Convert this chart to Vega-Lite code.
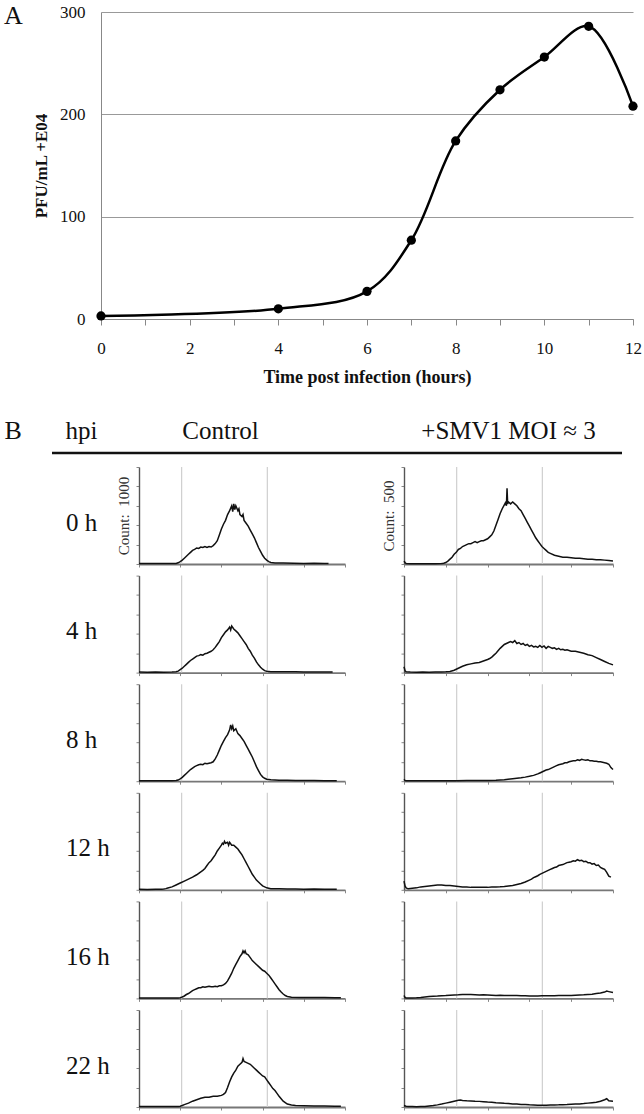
{
"$schema": "https://vega.github.io/schema/vega-lite/v6.json",
"padding": {"left": 4, "top": 3, "right": 0, "bottom": 0},
"background": "white",
"spacing": 11,
"config": {
 "view": {"stroke": null},
 "font": "Liberation Serif",
 "axis": {"labelFont": "Liberation Serif", "titleFont": "Liberation Serif", "grid": false, "labels": false, "tickSize": 3, "tickColor": "#888", "titleFontWeight": "normal", "titleColor": "#222", "labelColor": "#111"},
 "axisX": {"domainColor": "#777", "domainWidth": 1.8},
 "axisY": {"domainColor": "#555", "domainWidth": 1.4},
 "title": {"font": "Liberation Serif", "fontWeight": "normal", "color": "#111"},
 "line": {"color": "#111", "strokeWidth": 1.5},
 "rule": {"color": "#cfcfcf", "strokeWidth": 1.2}
},
"datasets": {
 "gates": [{"c":"C","g":20.7},{"c":"C","g":62.3},{"c":"S","g":25.2},{"c":"S","g":66.2}],
 "hist": [
{"h":"0 h","c":"C","x":0,"y":0.5},{"h":"0 h","c":"C","x":3,"y":0.4},{"h":"0 h","c":"C","x":6,"y":0.5},{"h":"0 h","c":"C","x":9,"y":0.4},{"h":"0 h","c":"C","x":12,"y":0.5},{"h":"0 h","c":"C","x":15,"y":0.4},{"h":"0 h","c":"C","x":18,"y":0.6},{"h":"0 h","c":"C","x":19,"y":1.2},{"h":"0 h","c":"C","x":20,"y":2.5},{"h":"0 h","c":"C","x":21,"y":4},{"h":"0 h","c":"C","x":22,"y":6},{"h":"0 h","c":"C","x":23,"y":8},{"h":"0 h","c":"C","x":24,"y":10},{"h":"0 h","c":"C","x":25,"y":12},{"h":"0 h","c":"C","x":26,"y":14},{"h":"0 h","c":"C","x":27,"y":15},{"h":"0 h","c":"C","x":28,"y":16.5},{"h":"0 h","c":"C","x":29,"y":16},{"h":"0 h","c":"C","x":30,"y":17.5},{"h":"0 h","c":"C","x":31,"y":17},{"h":"0 h","c":"C","x":32,"y":18},{"h":"0 h","c":"C","x":33,"y":17},{"h":"0 h","c":"C","x":34,"y":18},{"h":"0 h","c":"C","x":35,"y":17.5},{"h":"0 h","c":"C","x":36,"y":19},{"h":"0 h","c":"C","x":37,"y":21},{"h":"0 h","c":"C","x":38,"y":24},{"h":"0 h","c":"C","x":39,"y":30},{"h":"0 h","c":"C","x":40,"y":36},{"h":"0 h","c":"C","x":41,"y":41},{"h":"0 h","c":"C","x":42,"y":45},{"h":"0 h","c":"C","x":43,"y":51},{"h":"0 h","c":"C","x":44,"y":55},{"h":"0 h","c":"C","x":45,"y":60},{"h":"0 h","c":"C","x":45.5,"y":54},{"h":"0 h","c":"C","x":46,"y":62},{"h":"0 h","c":"C","x":46.5,"y":56},{"h":"0 h","c":"C","x":47,"y":60},{"h":"0 h","c":"C","x":48,"y":55},{"h":"0 h","c":"C","x":48.5,"y":57},{"h":"0 h","c":"C","x":49,"y":51},{"h":"0 h","c":"C","x":50,"y":49},{"h":"0 h","c":"C","x":50.5,"y":51},{"h":"0 h","c":"C","x":51,"y":45},{"h":"0 h","c":"C","x":52,"y":42},{"h":"0 h","c":"C","x":53,"y":39},{"h":"0 h","c":"C","x":54,"y":35},{"h":"0 h","c":"C","x":55,"y":31},{"h":"0 h","c":"C","x":56,"y":27},{"h":"0 h","c":"C","x":57,"y":22},{"h":"0 h","c":"C","x":58,"y":17},{"h":"0 h","c":"C","x":59,"y":13},{"h":"0 h","c":"C","x":60,"y":9},{"h":"0 h","c":"C","x":61,"y":6},{"h":"0 h","c":"C","x":62,"y":4},{"h":"0 h","c":"C","x":63,"y":2.5},{"h":"0 h","c":"C","x":64,"y":1.5},{"h":"0 h","c":"C","x":66,"y":1},{"h":"0 h","c":"C","x":70,"y":1},{"h":"0 h","c":"C","x":75,"y":0.8},{"h":"0 h","c":"C","x":80,"y":0.6},{"h":"0 h","c":"C","x":85,"y":0.7},{"h":"0 h","c":"C","x":90,"y":0.5},{"h":"0 h","c":"C","x":92,"y":0.4},
{"h":"4 h","c":"C","x":0,"y":0.5},{"h":"4 h","c":"C","x":4,"y":0.4},{"h":"4 h","c":"C","x":8,"y":0.5},{"h":"4 h","c":"C","x":12,"y":0.4},{"h":"4 h","c":"C","x":16,"y":0.5},{"h":"4 h","c":"C","x":18,"y":0.8},{"h":"4 h","c":"C","x":19,"y":1.5},{"h":"4 h","c":"C","x":20,"y":3},{"h":"4 h","c":"C","x":21,"y":4.5},{"h":"4 h","c":"C","x":22,"y":6.5},{"h":"4 h","c":"C","x":23,"y":8.5},{"h":"4 h","c":"C","x":24,"y":10.5},{"h":"4 h","c":"C","x":25,"y":12.5},{"h":"4 h","c":"C","x":26,"y":14},{"h":"4 h","c":"C","x":27,"y":15.5},{"h":"4 h","c":"C","x":28,"y":17},{"h":"4 h","c":"C","x":29,"y":17.5},{"h":"4 h","c":"C","x":30,"y":18.5},{"h":"4 h","c":"C","x":31,"y":18},{"h":"4 h","c":"C","x":32,"y":19.5},{"h":"4 h","c":"C","x":33,"y":20},{"h":"4 h","c":"C","x":34,"y":21},{"h":"4 h","c":"C","x":35,"y":22},{"h":"4 h","c":"C","x":36,"y":23.5},{"h":"4 h","c":"C","x":37,"y":26},{"h":"4 h","c":"C","x":38,"y":29},{"h":"4 h","c":"C","x":39,"y":32},{"h":"4 h","c":"C","x":40,"y":36},{"h":"4 h","c":"C","x":41,"y":39},{"h":"4 h","c":"C","x":42,"y":42},{"h":"4 h","c":"C","x":43,"y":44},{"h":"4 h","c":"C","x":44,"y":47},{"h":"4 h","c":"C","x":44.5,"y":44},{"h":"4 h","c":"C","x":45,"y":48},{"h":"4 h","c":"C","x":46,"y":45},{"h":"4 h","c":"C","x":47,"y":43},{"h":"4 h","c":"C","x":48,"y":41},{"h":"4 h","c":"C","x":49,"y":38},{"h":"4 h","c":"C","x":50,"y":35},{"h":"4 h","c":"C","x":51,"y":32},{"h":"4 h","c":"C","x":52,"y":29},{"h":"4 h","c":"C","x":53,"y":25},{"h":"4 h","c":"C","x":54,"y":22},{"h":"4 h","c":"C","x":55,"y":18},{"h":"4 h","c":"C","x":56,"y":15},{"h":"4 h","c":"C","x":57,"y":11},{"h":"4 h","c":"C","x":58,"y":8},{"h":"4 h","c":"C","x":59,"y":5.5},{"h":"4 h","c":"C","x":60,"y":3.5},{"h":"4 h","c":"C","x":61,"y":2},{"h":"4 h","c":"C","x":62,"y":1.5},{"h":"4 h","c":"C","x":64,"y":1},{"h":"4 h","c":"C","x":68,"y":1},{"h":"4 h","c":"C","x":72,"y":0.8},{"h":"4 h","c":"C","x":76,"y":0.9},{"h":"4 h","c":"C","x":80,"y":0.6},{"h":"4 h","c":"C","x":85,"y":0.7},{"h":"4 h","c":"C","x":90,"y":0.5},{"h":"4 h","c":"C","x":94,"y":0.5},
{"h":"8 h","c":"C","x":0,"y":0.5},{"h":"8 h","c":"C","x":4,"y":0.4},{"h":"8 h","c":"C","x":8,"y":0.5},{"h":"8 h","c":"C","x":12,"y":0.4},{"h":"8 h","c":"C","x":16,"y":0.5},{"h":"8 h","c":"C","x":18,"y":0.7},{"h":"8 h","c":"C","x":19,"y":1.2},{"h":"8 h","c":"C","x":20,"y":2.5},{"h":"8 h","c":"C","x":21,"y":4},{"h":"8 h","c":"C","x":22,"y":6},{"h":"8 h","c":"C","x":23,"y":8},{"h":"8 h","c":"C","x":24,"y":10},{"h":"8 h","c":"C","x":25,"y":12},{"h":"8 h","c":"C","x":26,"y":13.5},{"h":"8 h","c":"C","x":27,"y":15},{"h":"8 h","c":"C","x":28,"y":16},{"h":"8 h","c":"C","x":29,"y":17},{"h":"8 h","c":"C","x":30,"y":17.5},{"h":"8 h","c":"C","x":31,"y":17},{"h":"8 h","c":"C","x":32,"y":18.5},{"h":"8 h","c":"C","x":33,"y":18},{"h":"8 h","c":"C","x":34,"y":18.5},{"h":"8 h","c":"C","x":35,"y":19},{"h":"8 h","c":"C","x":36,"y":20},{"h":"8 h","c":"C","x":37,"y":23},{"h":"8 h","c":"C","x":38,"y":27},{"h":"8 h","c":"C","x":39,"y":32},{"h":"8 h","c":"C","x":40,"y":37},{"h":"8 h","c":"C","x":41,"y":41},{"h":"8 h","c":"C","x":42,"y":45},{"h":"8 h","c":"C","x":43,"y":48},{"h":"8 h","c":"C","x":44,"y":53},{"h":"8 h","c":"C","x":44.5,"y":58},{"h":"8 h","c":"C","x":45,"y":54},{"h":"8 h","c":"C","x":45.5,"y":57},{"h":"8 h","c":"C","x":46,"y":52},{"h":"8 h","c":"C","x":47,"y":54},{"h":"8 h","c":"C","x":48,"y":49},{"h":"8 h","c":"C","x":49,"y":47},{"h":"8 h","c":"C","x":50,"y":44},{"h":"8 h","c":"C","x":51,"y":41},{"h":"8 h","c":"C","x":52,"y":37},{"h":"8 h","c":"C","x":53,"y":33},{"h":"8 h","c":"C","x":54,"y":29},{"h":"8 h","c":"C","x":55,"y":25},{"h":"8 h","c":"C","x":56,"y":20},{"h":"8 h","c":"C","x":57,"y":15},{"h":"8 h","c":"C","x":58,"y":11},{"h":"8 h","c":"C","x":59,"y":7},{"h":"8 h","c":"C","x":60,"y":4.5},{"h":"8 h","c":"C","x":61,"y":3},{"h":"8 h","c":"C","x":62,"y":2},{"h":"8 h","c":"C","x":64,"y":1.5},{"h":"8 h","c":"C","x":68,"y":1},{"h":"8 h","c":"C","x":72,"y":1},{"h":"8 h","c":"C","x":76,"y":0.8},{"h":"8 h","c":"C","x":80,"y":0.8},{"h":"8 h","c":"C","x":85,"y":0.6},{"h":"8 h","c":"C","x":90,"y":0.5},{"h":"8 h","c":"C","x":96,"y":0.5},
{"h":"12 h","c":"C","x":0,"y":0.5},{"h":"12 h","c":"C","x":4,"y":0.4},{"h":"12 h","c":"C","x":8,"y":0.5},{"h":"12 h","c":"C","x":11,"y":0.5},{"h":"12 h","c":"C","x":12,"y":0.8},{"h":"12 h","c":"C","x":13,"y":1.2},{"h":"12 h","c":"C","x":14,"y":1.8},{"h":"12 h","c":"C","x":16,"y":3},{"h":"12 h","c":"C","x":18,"y":5},{"h":"12 h","c":"C","x":20,"y":7},{"h":"12 h","c":"C","x":22,"y":9},{"h":"12 h","c":"C","x":24,"y":11},{"h":"12 h","c":"C","x":26,"y":13},{"h":"12 h","c":"C","x":28,"y":15.5},{"h":"12 h","c":"C","x":29,"y":17},{"h":"12 h","c":"C","x":30,"y":18.5},{"h":"12 h","c":"C","x":31,"y":20},{"h":"12 h","c":"C","x":32,"y":22},{"h":"12 h","c":"C","x":33,"y":25},{"h":"12 h","c":"C","x":34,"y":28},{"h":"12 h","c":"C","x":35,"y":30},{"h":"12 h","c":"C","x":36,"y":33},{"h":"12 h","c":"C","x":37,"y":36},{"h":"12 h","c":"C","x":38,"y":40},{"h":"12 h","c":"C","x":39,"y":43},{"h":"12 h","c":"C","x":40,"y":46},{"h":"12 h","c":"C","x":40.5,"y":48},{"h":"12 h","c":"C","x":41,"y":47},{"h":"12 h","c":"C","x":41.5,"y":50},{"h":"12 h","c":"C","x":42,"y":48},{"h":"12 h","c":"C","x":43,"y":49},{"h":"12 h","c":"C","x":43.5,"y":46},{"h":"12 h","c":"C","x":44,"y":49},{"h":"12 h","c":"C","x":45,"y":46},{"h":"12 h","c":"C","x":46,"y":46},{"h":"12 h","c":"C","x":47,"y":44},{"h":"12 h","c":"C","x":48,"y":42},{"h":"12 h","c":"C","x":49,"y":39},{"h":"12 h","c":"C","x":50,"y":36},{"h":"12 h","c":"C","x":51,"y":32},{"h":"12 h","c":"C","x":52,"y":28},{"h":"12 h","c":"C","x":53,"y":24},{"h":"12 h","c":"C","x":54,"y":20},{"h":"12 h","c":"C","x":55,"y":16},{"h":"12 h","c":"C","x":56,"y":13},{"h":"12 h","c":"C","x":57,"y":10},{"h":"12 h","c":"C","x":58,"y":8},{"h":"12 h","c":"C","x":59,"y":6},{"h":"12 h","c":"C","x":60,"y":4},{"h":"12 h","c":"C","x":61,"y":3},{"h":"12 h","c":"C","x":62,"y":2},{"h":"12 h","c":"C","x":64,"y":1.2},{"h":"12 h","c":"C","x":68,"y":1},{"h":"12 h","c":"C","x":72,"y":0.8},{"h":"12 h","c":"C","x":76,"y":0.9},{"h":"12 h","c":"C","x":80,"y":0.6},{"h":"12 h","c":"C","x":85,"y":0.7},{"h":"12 h","c":"C","x":90,"y":0.5},{"h":"12 h","c":"C","x":96,"y":0.5},
{"h":"16 h","c":"C","x":0,"y":0.5},{"h":"16 h","c":"C","x":5,"y":0.4},{"h":"16 h","c":"C","x":10,"y":0.5},{"h":"16 h","c":"C","x":15,"y":0.4},{"h":"16 h","c":"C","x":19,"y":0.5},{"h":"16 h","c":"C","x":20,"y":0.8},{"h":"16 h","c":"C","x":21,"y":1.5},{"h":"16 h","c":"C","x":22,"y":2.5},{"h":"16 h","c":"C","x":23,"y":4},{"h":"16 h","c":"C","x":24,"y":5},{"h":"16 h","c":"C","x":25,"y":6.5},{"h":"16 h","c":"C","x":26,"y":8},{"h":"16 h","c":"C","x":27,"y":9},{"h":"16 h","c":"C","x":28,"y":10},{"h":"16 h","c":"C","x":29,"y":11},{"h":"16 h","c":"C","x":30,"y":11},{"h":"16 h","c":"C","x":31,"y":12},{"h":"16 h","c":"C","x":32,"y":11.5},{"h":"16 h","c":"C","x":33,"y":12},{"h":"16 h","c":"C","x":34,"y":12.5},{"h":"16 h","c":"C","x":35,"y":12},{"h":"16 h","c":"C","x":36,"y":12},{"h":"16 h","c":"C","x":37,"y":12.5},{"h":"16 h","c":"C","x":38,"y":12},{"h":"16 h","c":"C","x":39,"y":13},{"h":"16 h","c":"C","x":40,"y":13},{"h":"16 h","c":"C","x":41,"y":14},{"h":"16 h","c":"C","x":42,"y":15.5},{"h":"16 h","c":"C","x":43,"y":18},{"h":"16 h","c":"C","x":44,"y":22},{"h":"16 h","c":"C","x":45,"y":26},{"h":"16 h","c":"C","x":46,"y":31},{"h":"16 h","c":"C","x":47,"y":35},{"h":"16 h","c":"C","x":48,"y":39},{"h":"16 h","c":"C","x":49,"y":43},{"h":"16 h","c":"C","x":50,"y":46},{"h":"16 h","c":"C","x":50.5,"y":49},{"h":"16 h","c":"C","x":51,"y":47},{"h":"16 h","c":"C","x":51.5,"y":49},{"h":"16 h","c":"C","x":52,"y":46},{"h":"16 h","c":"C","x":53,"y":45},{"h":"16 h","c":"C","x":54,"y":42},{"h":"16 h","c":"C","x":55,"y":39},{"h":"16 h","c":"C","x":56,"y":37},{"h":"16 h","c":"C","x":57,"y":35},{"h":"16 h","c":"C","x":58,"y":33},{"h":"16 h","c":"C","x":59,"y":31},{"h":"16 h","c":"C","x":60,"y":29},{"h":"16 h","c":"C","x":61,"y":28},{"h":"16 h","c":"C","x":62,"y":26},{"h":"16 h","c":"C","x":63,"y":24},{"h":"16 h","c":"C","x":64,"y":21},{"h":"16 h","c":"C","x":65,"y":18},{"h":"16 h","c":"C","x":66,"y":15},{"h":"16 h","c":"C","x":67,"y":12},{"h":"16 h","c":"C","x":68,"y":9},{"h":"16 h","c":"C","x":69,"y":6.5},{"h":"16 h","c":"C","x":70,"y":4.5},{"h":"16 h","c":"C","x":71,"y":3},{"h":"16 h","c":"C","x":72,"y":2},{"h":"16 h","c":"C","x":74,"y":1.3},{"h":"16 h","c":"C","x":78,"y":1},{"h":"16 h","c":"C","x":82,"y":1},{"h":"16 h","c":"C","x":86,"y":0.8},{"h":"16 h","c":"C","x":90,"y":0.9},{"h":"16 h","c":"C","x":95,"y":0.7},{"h":"16 h","c":"C","x":98,"y":0.6},
{"h":"22 h","c":"C","x":0,"y":0.5},{"h":"22 h","c":"C","x":5,"y":0.4},{"h":"22 h","c":"C","x":10,"y":0.5},{"h":"22 h","c":"C","x":15,"y":0.4},{"h":"22 h","c":"C","x":19,"y":0.5},{"h":"22 h","c":"C","x":20,"y":0.8},{"h":"22 h","c":"C","x":21,"y":1.5},{"h":"22 h","c":"C","x":22,"y":2.5},{"h":"22 h","c":"C","x":24,"y":4},{"h":"22 h","c":"C","x":26,"y":6},{"h":"22 h","c":"C","x":28,"y":7.5},{"h":"22 h","c":"C","x":30,"y":9},{"h":"22 h","c":"C","x":32,"y":10},{"h":"22 h","c":"C","x":34,"y":10},{"h":"22 h","c":"C","x":36,"y":11},{"h":"22 h","c":"C","x":38,"y":11},{"h":"22 h","c":"C","x":40,"y":12},{"h":"22 h","c":"C","x":41,"y":13},{"h":"22 h","c":"C","x":42,"y":15},{"h":"22 h","c":"C","x":43,"y":20},{"h":"22 h","c":"C","x":44,"y":26},{"h":"22 h","c":"C","x":45,"y":31},{"h":"22 h","c":"C","x":46,"y":35},{"h":"22 h","c":"C","x":47,"y":38},{"h":"22 h","c":"C","x":48,"y":42},{"h":"22 h","c":"C","x":49,"y":44},{"h":"22 h","c":"C","x":50,"y":46},{"h":"22 h","c":"C","x":50.5,"y":50},{"h":"22 h","c":"C","x":51,"y":47},{"h":"22 h","c":"C","x":52,"y":46},{"h":"22 h","c":"C","x":53,"y":45},{"h":"22 h","c":"C","x":54,"y":44},{"h":"22 h","c":"C","x":55,"y":42},{"h":"22 h","c":"C","x":56,"y":40},{"h":"22 h","c":"C","x":57,"y":38},{"h":"22 h","c":"C","x":58,"y":36},{"h":"22 h","c":"C","x":59,"y":34},{"h":"22 h","c":"C","x":60,"y":32},{"h":"22 h","c":"C","x":61,"y":31},{"h":"22 h","c":"C","x":62,"y":28},{"h":"22 h","c":"C","x":63,"y":25},{"h":"22 h","c":"C","x":64,"y":22},{"h":"22 h","c":"C","x":65,"y":19},{"h":"22 h","c":"C","x":66,"y":17},{"h":"22 h","c":"C","x":67,"y":14},{"h":"22 h","c":"C","x":68,"y":11},{"h":"22 h","c":"C","x":69,"y":8.5},{"h":"22 h","c":"C","x":70,"y":6},{"h":"22 h","c":"C","x":71,"y":4.5},{"h":"22 h","c":"C","x":72,"y":3},{"h":"22 h","c":"C","x":74,"y":2},{"h":"22 h","c":"C","x":76,"y":1.5},{"h":"22 h","c":"C","x":80,"y":1.2},{"h":"22 h","c":"C","x":85,"y":1},{"h":"22 h","c":"C","x":90,"y":1},{"h":"22 h","c":"C","x":95,"y":0.9},{"h":"22 h","c":"C","x":98,"y":0.8},
{"h":"0 h","c":"S","x":0,"y":3},{"h":"0 h","c":"S","x":0.5,"y":1.5},{"h":"0 h","c":"S","x":1,"y":0.5},{"h":"0 h","c":"S","x":3,"y":0.3},{"h":"0 h","c":"S","x":6,"y":0.3},{"h":"0 h","c":"S","x":9,"y":0.2},{"h":"0 h","c":"S","x":12,"y":0.3},{"h":"0 h","c":"S","x":15,"y":0.3},{"h":"0 h","c":"S","x":18,"y":0.4},{"h":"0 h","c":"S","x":19,"y":0.8},{"h":"0 h","c":"S","x":20,"y":1.5},{"h":"0 h","c":"S","x":21,"y":3},{"h":"0 h","c":"S","x":22,"y":5},{"h":"0 h","c":"S","x":23,"y":7},{"h":"0 h","c":"S","x":24,"y":10},{"h":"0 h","c":"S","x":25,"y":12},{"h":"0 h","c":"S","x":26,"y":15},{"h":"0 h","c":"S","x":27,"y":16},{"h":"0 h","c":"S","x":28,"y":18},{"h":"0 h","c":"S","x":29,"y":19},{"h":"0 h","c":"S","x":30,"y":20},{"h":"0 h","c":"S","x":31,"y":21},{"h":"0 h","c":"S","x":32,"y":21},{"h":"0 h","c":"S","x":33,"y":22},{"h":"0 h","c":"S","x":34,"y":23},{"h":"0 h","c":"S","x":35,"y":22},{"h":"0 h","c":"S","x":36,"y":23},{"h":"0 h","c":"S","x":37,"y":24},{"h":"0 h","c":"S","x":38,"y":24},{"h":"0 h","c":"S","x":39,"y":25},{"h":"0 h","c":"S","x":40,"y":26},{"h":"0 h","c":"S","x":41,"y":28},{"h":"0 h","c":"S","x":42,"y":30},{"h":"0 h","c":"S","x":43,"y":34},{"h":"0 h","c":"S","x":44,"y":40},{"h":"0 h","c":"S","x":45,"y":46},{"h":"0 h","c":"S","x":46,"y":52},{"h":"0 h","c":"S","x":47,"y":57},{"h":"0 h","c":"S","x":48,"y":61},{"h":"0 h","c":"S","x":48.5,"y":63},{"h":"0 h","c":"S","x":49,"y":60},{"h":"0 h","c":"S","x":49.3,"y":78},{"h":"0 h","c":"S","x":49.6,"y":62},{"h":"0 h","c":"S","x":50,"y":64},{"h":"0 h","c":"S","x":51,"y":62},{"h":"0 h","c":"S","x":52,"y":64},{"h":"0 h","c":"S","x":53,"y":62},{"h":"0 h","c":"S","x":54,"y":60},{"h":"0 h","c":"S","x":55,"y":57},{"h":"0 h","c":"S","x":56,"y":55},{"h":"0 h","c":"S","x":57,"y":51},{"h":"0 h","c":"S","x":58,"y":47},{"h":"0 h","c":"S","x":59,"y":43},{"h":"0 h","c":"S","x":60,"y":39},{"h":"0 h","c":"S","x":61,"y":35},{"h":"0 h","c":"S","x":62,"y":31},{"h":"0 h","c":"S","x":63,"y":27},{"h":"0 h","c":"S","x":64,"y":24},{"h":"0 h","c":"S","x":65,"y":21},{"h":"0 h","c":"S","x":66,"y":18},{"h":"0 h","c":"S","x":67,"y":16},{"h":"0 h","c":"S","x":68,"y":14},{"h":"0 h","c":"S","x":69,"y":12},{"h":"0 h","c":"S","x":70,"y":11},{"h":"0 h","c":"S","x":72,"y":9},{"h":"0 h","c":"S","x":74,"y":8},{"h":"0 h","c":"S","x":76,"y":7},{"h":"0 h","c":"S","x":78,"y":7},{"h":"0 h","c":"S","x":80,"y":6.5},{"h":"0 h","c":"S","x":82,"y":6},{"h":"0 h","c":"S","x":84,"y":6},{"h":"0 h","c":"S","x":86,"y":5.5},{"h":"0 h","c":"S","x":88,"y":5},{"h":"0 h","c":"S","x":90,"y":5},{"h":"0 h","c":"S","x":92,"y":4.5},{"h":"0 h","c":"S","x":94,"y":4.5},{"h":"0 h","c":"S","x":96,"y":4},{"h":"0 h","c":"S","x":98,"y":3.5},{"h":"0 h","c":"S","x":100,"y":3},
{"h":"4 h","c":"S","x":0,"y":6},{"h":"4 h","c":"S","x":0.5,"y":2},{"h":"4 h","c":"S","x":1,"y":0.8},{"h":"4 h","c":"S","x":3,"y":0.5},{"h":"4 h","c":"S","x":6,"y":0.4},{"h":"4 h","c":"S","x":9,"y":0.5},{"h":"4 h","c":"S","x":12,"y":0.4},{"h":"4 h","c":"S","x":15,"y":0.5},{"h":"4 h","c":"S","x":18,"y":0.6},{"h":"4 h","c":"S","x":20,"y":0.8},{"h":"4 h","c":"S","x":22,"y":1.2},{"h":"4 h","c":"S","x":24,"y":2.5},{"h":"4 h","c":"S","x":26,"y":4.5},{"h":"4 h","c":"S","x":28,"y":6.5},{"h":"4 h","c":"S","x":30,"y":8},{"h":"4 h","c":"S","x":32,"y":9},{"h":"4 h","c":"S","x":34,"y":10},{"h":"4 h","c":"S","x":36,"y":10.5},{"h":"4 h","c":"S","x":38,"y":12},{"h":"4 h","c":"S","x":40,"y":13.5},{"h":"4 h","c":"S","x":41,"y":14.5},{"h":"4 h","c":"S","x":42,"y":16},{"h":"4 h","c":"S","x":43,"y":18},{"h":"4 h","c":"S","x":44,"y":20},{"h":"4 h","c":"S","x":45,"y":22.5},{"h":"4 h","c":"S","x":46,"y":25},{"h":"4 h","c":"S","x":47,"y":27},{"h":"4 h","c":"S","x":48,"y":29},{"h":"4 h","c":"S","x":49,"y":30},{"h":"4 h","c":"S","x":50,"y":31},{"h":"4 h","c":"S","x":51,"y":32},{"h":"4 h","c":"S","x":52,"y":31},{"h":"4 h","c":"S","x":53,"y":33},{"h":"4 h","c":"S","x":54,"y":30},{"h":"4 h","c":"S","x":55,"y":31},{"h":"4 h","c":"S","x":56,"y":29},{"h":"4 h","c":"S","x":57,"y":30},{"h":"4 h","c":"S","x":58,"y":28},{"h":"4 h","c":"S","x":59,"y":29},{"h":"4 h","c":"S","x":60,"y":27},{"h":"4 h","c":"S","x":61,"y":28},{"h":"4 h","c":"S","x":62,"y":26.5},{"h":"4 h","c":"S","x":63,"y":27},{"h":"4 h","c":"S","x":64,"y":26},{"h":"4 h","c":"S","x":65,"y":28},{"h":"4 h","c":"S","x":66,"y":26},{"h":"4 h","c":"S","x":67,"y":27.5},{"h":"4 h","c":"S","x":68,"y":25},{"h":"4 h","c":"S","x":69,"y":27},{"h":"4 h","c":"S","x":70,"y":26},{"h":"4 h","c":"S","x":71,"y":25},{"h":"4 h","c":"S","x":72,"y":25.5},{"h":"4 h","c":"S","x":73,"y":24},{"h":"4 h","c":"S","x":74,"y":25},{"h":"4 h","c":"S","x":75,"y":23.5},{"h":"4 h","c":"S","x":76,"y":24},{"h":"4 h","c":"S","x":77,"y":23},{"h":"4 h","c":"S","x":78,"y":23.5},{"h":"4 h","c":"S","x":80,"y":22},{"h":"4 h","c":"S","x":82,"y":22},{"h":"4 h","c":"S","x":84,"y":21},{"h":"4 h","c":"S","x":86,"y":20},{"h":"4 h","c":"S","x":88,"y":18.5},{"h":"4 h","c":"S","x":90,"y":17.5},{"h":"4 h","c":"S","x":92,"y":15.5},{"h":"4 h","c":"S","x":94,"y":13.5},{"h":"4 h","c":"S","x":96,"y":11.5},{"h":"4 h","c":"S","x":98,"y":9.5},{"h":"4 h","c":"S","x":100,"y":8},
{"h":"8 h","c":"S","x":0,"y":2},{"h":"8 h","c":"S","x":0.5,"y":0.8},{"h":"8 h","c":"S","x":1,"y":0.5},{"h":"8 h","c":"S","x":5,"y":0.4},{"h":"8 h","c":"S","x":10,"y":0.5},{"h":"8 h","c":"S","x":15,"y":0.4},{"h":"8 h","c":"S","x":20,"y":0.5},{"h":"8 h","c":"S","x":25,"y":0.5},{"h":"8 h","c":"S","x":30,"y":0.6},{"h":"8 h","c":"S","x":35,"y":0.7},{"h":"8 h","c":"S","x":40,"y":0.8},{"h":"8 h","c":"S","x":44,"y":1},{"h":"8 h","c":"S","x":48,"y":1.5},{"h":"8 h","c":"S","x":52,"y":2.5},{"h":"8 h","c":"S","x":54,"y":3},{"h":"8 h","c":"S","x":56,"y":3.5},{"h":"8 h","c":"S","x":58,"y":4.2},{"h":"8 h","c":"S","x":60,"y":5},{"h":"8 h","c":"S","x":62,"y":6},{"h":"8 h","c":"S","x":64,"y":7.5},{"h":"8 h","c":"S","x":65,"y":8.5},{"h":"8 h","c":"S","x":66,"y":9.5},{"h":"8 h","c":"S","x":67,"y":10.5},{"h":"8 h","c":"S","x":68,"y":11.5},{"h":"8 h","c":"S","x":69,"y":12},{"h":"8 h","c":"S","x":70,"y":13},{"h":"8 h","c":"S","x":71,"y":14},{"h":"8 h","c":"S","x":72,"y":15},{"h":"8 h","c":"S","x":73,"y":16},{"h":"8 h","c":"S","x":74,"y":17},{"h":"8 h","c":"S","x":75,"y":17.5},{"h":"8 h","c":"S","x":76,"y":18},{"h":"8 h","c":"S","x":77,"y":19},{"h":"8 h","c":"S","x":78,"y":19},{"h":"8 h","c":"S","x":79,"y":20},{"h":"8 h","c":"S","x":80,"y":20.5},{"h":"8 h","c":"S","x":81,"y":21},{"h":"8 h","c":"S","x":82,"y":21},{"h":"8 h","c":"S","x":83,"y":22},{"h":"8 h","c":"S","x":84,"y":21.5},{"h":"8 h","c":"S","x":85,"y":22.5},{"h":"8 h","c":"S","x":86,"y":22},{"h":"8 h","c":"S","x":87,"y":21.5},{"h":"8 h","c":"S","x":88,"y":22},{"h":"8 h","c":"S","x":89,"y":21},{"h":"8 h","c":"S","x":90,"y":21},{"h":"8 h","c":"S","x":91,"y":20.5},{"h":"8 h","c":"S","x":92,"y":20.5},{"h":"8 h","c":"S","x":93,"y":20},{"h":"8 h","c":"S","x":94,"y":20},{"h":"8 h","c":"S","x":95,"y":19.5},{"h":"8 h","c":"S","x":96,"y":19},{"h":"8 h","c":"S","x":97,"y":18.5},{"h":"8 h","c":"S","x":98,"y":17.5},{"h":"8 h","c":"S","x":99,"y":14},{"h":"8 h","c":"S","x":100,"y":12},
{"h":"12 h","c":"S","x":0,"y":9},{"h":"12 h","c":"S","x":0.5,"y":4},{"h":"12 h","c":"S","x":1,"y":2},{"h":"12 h","c":"S","x":2,"y":1},{"h":"12 h","c":"S","x":4,"y":1.5},{"h":"12 h","c":"S","x":6,"y":2},{"h":"12 h","c":"S","x":8,"y":3},{"h":"12 h","c":"S","x":10,"y":3.5},{"h":"12 h","c":"S","x":12,"y":4},{"h":"12 h","c":"S","x":14,"y":4.5},{"h":"12 h","c":"S","x":16,"y":5},{"h":"12 h","c":"S","x":18,"y":5},{"h":"12 h","c":"S","x":20,"y":4.5},{"h":"12 h","c":"S","x":22,"y":4.5},{"h":"12 h","c":"S","x":24,"y":4},{"h":"12 h","c":"S","x":26,"y":3.5},{"h":"12 h","c":"S","x":28,"y":3},{"h":"12 h","c":"S","x":30,"y":3},{"h":"12 h","c":"S","x":32,"y":2.5},{"h":"12 h","c":"S","x":34,"y":2.5},{"h":"12 h","c":"S","x":36,"y":2.5},{"h":"12 h","c":"S","x":38,"y":2.5},{"h":"12 h","c":"S","x":40,"y":2.5},{"h":"12 h","c":"S","x":42,"y":2.8},{"h":"12 h","c":"S","x":44,"y":3},{"h":"12 h","c":"S","x":46,"y":3.2},{"h":"12 h","c":"S","x":48,"y":3.5},{"h":"12 h","c":"S","x":50,"y":4},{"h":"12 h","c":"S","x":52,"y":4.5},{"h":"12 h","c":"S","x":54,"y":5.5},{"h":"12 h","c":"S","x":56,"y":6.5},{"h":"12 h","c":"S","x":58,"y":8},{"h":"12 h","c":"S","x":60,"y":10},{"h":"12 h","c":"S","x":61,"y":11},{"h":"12 h","c":"S","x":62,"y":12.5},{"h":"12 h","c":"S","x":63,"y":13.5},{"h":"12 h","c":"S","x":64,"y":14.5},{"h":"12 h","c":"S","x":65,"y":16},{"h":"12 h","c":"S","x":66,"y":17},{"h":"12 h","c":"S","x":67,"y":18},{"h":"12 h","c":"S","x":68,"y":19},{"h":"12 h","c":"S","x":69,"y":20},{"h":"12 h","c":"S","x":70,"y":21},{"h":"12 h","c":"S","x":71,"y":22},{"h":"12 h","c":"S","x":72,"y":23},{"h":"12 h","c":"S","x":73,"y":23.5},{"h":"12 h","c":"S","x":74,"y":25},{"h":"12 h","c":"S","x":75,"y":25.5},{"h":"12 h","c":"S","x":76,"y":26},{"h":"12 h","c":"S","x":77,"y":27},{"h":"12 h","c":"S","x":78,"y":28},{"h":"12 h","c":"S","x":79,"y":28.5},{"h":"12 h","c":"S","x":80,"y":29},{"h":"12 h","c":"S","x":81,"y":30},{"h":"12 h","c":"S","x":82,"y":29.5},{"h":"12 h","c":"S","x":83,"y":31},{"h":"12 h","c":"S","x":84,"y":30},{"h":"12 h","c":"S","x":85,"y":30.5},{"h":"12 h","c":"S","x":86,"y":29},{"h":"12 h","c":"S","x":87,"y":29.5},{"h":"12 h","c":"S","x":88,"y":28},{"h":"12 h","c":"S","x":89,"y":28},{"h":"12 h","c":"S","x":90,"y":26.5},{"h":"12 h","c":"S","x":91,"y":27},{"h":"12 h","c":"S","x":92,"y":25},{"h":"12 h","c":"S","x":93,"y":25.5},{"h":"12 h","c":"S","x":94,"y":23},{"h":"12 h","c":"S","x":95,"y":22},{"h":"12 h","c":"S","x":96,"y":21},{"h":"12 h","c":"S","x":97,"y":18},{"h":"12 h","c":"S","x":98,"y":14},{"h":"12 h","c":"S","x":99,"y":13},
{"h":"16 h","c":"S","x":0,"y":3},{"h":"16 h","c":"S","x":0.5,"y":1},{"h":"16 h","c":"S","x":1,"y":0.5},{"h":"16 h","c":"S","x":2,"y":0.3},{"h":"16 h","c":"S","x":4,"y":0.5},{"h":"16 h","c":"S","x":6,"y":0.7},{"h":"16 h","c":"S","x":8,"y":1},{"h":"16 h","c":"S","x":10,"y":1.5},{"h":"16 h","c":"S","x":12,"y":2},{"h":"16 h","c":"S","x":14,"y":2.3},{"h":"16 h","c":"S","x":16,"y":2.5},{"h":"16 h","c":"S","x":18,"y":2.8},{"h":"16 h","c":"S","x":20,"y":3},{"h":"16 h","c":"S","x":22,"y":3.3},{"h":"16 h","c":"S","x":24,"y":3.5},{"h":"16 h","c":"S","x":26,"y":3.7},{"h":"16 h","c":"S","x":28,"y":4},{"h":"16 h","c":"S","x":30,"y":4},{"h":"16 h","c":"S","x":32,"y":4},{"h":"16 h","c":"S","x":34,"y":3.8},{"h":"16 h","c":"S","x":36,"y":3.5},{"h":"16 h","c":"S","x":38,"y":3.7},{"h":"16 h","c":"S","x":40,"y":3.5},{"h":"16 h","c":"S","x":42,"y":3.3},{"h":"16 h","c":"S","x":44,"y":3},{"h":"16 h","c":"S","x":46,"y":3.2},{"h":"16 h","c":"S","x":48,"y":3},{"h":"16 h","c":"S","x":50,"y":3},{"h":"16 h","c":"S","x":52,"y":2.9},{"h":"16 h","c":"S","x":54,"y":3.1},{"h":"16 h","c":"S","x":56,"y":2.8},{"h":"16 h","c":"S","x":58,"y":2.7},{"h":"16 h","c":"S","x":60,"y":2.5},{"h":"16 h","c":"S","x":62,"y":2.6},{"h":"16 h","c":"S","x":64,"y":2.5},{"h":"16 h","c":"S","x":66,"y":2.7},{"h":"16 h","c":"S","x":68,"y":2.8},{"h":"16 h","c":"S","x":70,"y":2.7},{"h":"16 h","c":"S","x":72,"y":2.8},{"h":"16 h","c":"S","x":74,"y":3},{"h":"16 h","c":"S","x":76,"y":3},{"h":"16 h","c":"S","x":78,"y":3.1},{"h":"16 h","c":"S","x":80,"y":3},{"h":"16 h","c":"S","x":82,"y":3.3},{"h":"16 h","c":"S","x":84,"y":3.5},{"h":"16 h","c":"S","x":86,"y":3.7},{"h":"16 h","c":"S","x":88,"y":4},{"h":"16 h","c":"S","x":90,"y":4.3},{"h":"16 h","c":"S","x":92,"y":5},{"h":"16 h","c":"S","x":94,"y":5.5},{"h":"16 h","c":"S","x":96,"y":6.5},{"h":"16 h","c":"S","x":97,"y":7.5},{"h":"16 h","c":"S","x":98,"y":7},{"h":"16 h","c":"S","x":100,"y":6},
{"h":"22 h","c":"S","x":0,"y":1.5},{"h":"22 h","c":"S","x":1,"y":0.8},{"h":"22 h","c":"S","x":2,"y":0.5},{"h":"22 h","c":"S","x":4,"y":0.4},{"h":"22 h","c":"S","x":6,"y":0.3},{"h":"22 h","c":"S","x":8,"y":0.4},{"h":"22 h","c":"S","x":10,"y":0.5},{"h":"22 h","c":"S","x":12,"y":1},{"h":"22 h","c":"S","x":14,"y":1.5},{"h":"22 h","c":"S","x":16,"y":2.2},{"h":"22 h","c":"S","x":18,"y":3},{"h":"22 h","c":"S","x":20,"y":4},{"h":"22 h","c":"S","x":22,"y":5},{"h":"22 h","c":"S","x":24,"y":6},{"h":"22 h","c":"S","x":26,"y":7},{"h":"22 h","c":"S","x":27,"y":7.2},{"h":"22 h","c":"S","x":28,"y":6.8},{"h":"22 h","c":"S","x":30,"y":6.5},{"h":"22 h","c":"S","x":32,"y":6.3},{"h":"22 h","c":"S","x":34,"y":6},{"h":"22 h","c":"S","x":36,"y":5.8},{"h":"22 h","c":"S","x":38,"y":5.5},{"h":"22 h","c":"S","x":40,"y":5.2},{"h":"22 h","c":"S","x":42,"y":5},{"h":"22 h","c":"S","x":44,"y":4.5},{"h":"22 h","c":"S","x":46,"y":4.2},{"h":"22 h","c":"S","x":48,"y":3.8},{"h":"22 h","c":"S","x":50,"y":3.5},{"h":"22 h","c":"S","x":52,"y":3.2},{"h":"22 h","c":"S","x":54,"y":3},{"h":"22 h","c":"S","x":56,"y":2.7},{"h":"22 h","c":"S","x":58,"y":2.5},{"h":"22 h","c":"S","x":60,"y":2.2},{"h":"22 h","c":"S","x":62,"y":2},{"h":"22 h","c":"S","x":64,"y":1.8},{"h":"22 h","c":"S","x":66,"y":1.7},{"h":"22 h","c":"S","x":68,"y":1.8},{"h":"22 h","c":"S","x":70,"y":2},{"h":"22 h","c":"S","x":72,"y":2.1},{"h":"22 h","c":"S","x":74,"y":2.2},{"h":"22 h","c":"S","x":76,"y":2.4},{"h":"22 h","c":"S","x":78,"y":2.5},{"h":"22 h","c":"S","x":80,"y":2.8},{"h":"22 h","c":"S","x":82,"y":3},{"h":"22 h","c":"S","x":84,"y":3.2},{"h":"22 h","c":"S","x":86,"y":3.5},{"h":"22 h","c":"S","x":88,"y":4},{"h":"22 h","c":"S","x":90,"y":4.5},{"h":"22 h","c":"S","x":92,"y":5},{"h":"22 h","c":"S","x":94,"y":6},{"h":"22 h","c":"S","x":96,"y":7.5},{"h":"22 h","c":"S","x":97,"y":8.5},{"h":"22 h","c":"S","x":98,"y":6.5},{"h":"22 h","c":"S","x":100,"y":6}
 ]
},
"vconcat": [
 {
  "width": 532, "height": 307,
  "title": {"text": "A", "anchor": "start", "frame": "group", "orient": "top", "align": "left", "baseline": "top", "dx": -97, "dy": 26, "offset": 0, "fontSize": 26},
  "data": {"values": [{"t":0,"pfu":3},{"t":4,"pfu":10},{"t":6,"pfu":27},{"t":7,"pfu":77},{"t":8,"pfu":174},{"t":9,"pfu":224},{"t":10,"pfu":256},{"t":11,"pfu":286},{"t":12,"pfu":208}]},
  "encoding": {
   "x": {"field": "t", "type": "quantitative", "scale": {"domain": [0, 12], "nice": false},
         "axis": {"values": [0,1,2,3,4,5,6,7,8,9,10,11,12], "labelExpr": "datum.value % 2 == 0 ? datum.label : ''", "title": "Time post infection (hours)", "labels": true, "grid": false, "tickSize": 6, "tickColor": "#888", "domainColor": "#888", "domainWidth": 1, "labelPadding": 15, "titlePadding": 12, "labelFontSize": 17, "titleFontSize": 18, "titleFontWeight": "bold", "titleColor": "#111", "labelFlush": false}},
   "y": {"field": "pfu", "type": "quantitative", "scale": {"domain": [0, 300]},
         "axis": {"values": [0,100,200,300], "title": "PFU/mL +E04", "labels": true, "grid": true, "gridColor": "#999", "gridWidth": 1, "ticks": false, "domainColor": "#888", "domainWidth": 1, "labelPadding": 16, "titlePadding": 9, "labelFontSize": 17, "titleFontSize": 17, "titleFontWeight": "bold", "titleColor": "#111"}}
  },
  "layer": [
   {"mark": {"type": "line", "interpolate": "catmull-rom", "color": "#000", "strokeWidth": 2.5}},
   {"mark": {"type": "point", "filled": true, "size": 85, "color": "#000", "opacity": 1}}
  ]
 },
 {
  "width": 521, "height": 56,
  "data": {"values": [{}]},
  "mark": {"type": "rule", "color": "#111", "strokeWidth": 2.5},
  "encoding": {
   "x": {"datum": 59, "type": "quantitative", "scale": {"domain": [11, 629], "range": [-97, 521], "nice": false, "zero": false},
         "axis": {"orient": "bottom", "values": [11, 88, 227, 515], "labelExpr": "datum.value == 11 ? 'B' : datum.value == 88 ? 'hpi' : datum.value == 227 ? 'Control' : '+SMV1 MOI ≈ 3'", "labels": true, "domain": false, "ticks": false, "grid": false, "labelPadding": -15, "labelBaseline": "alphabetic", "labelFont": "Liberation Serif", "labelFontSize": {"condition": {"test": "datum.value == 11", "value": 26}, "value": 25}, "labelAlign": {"condition": {"test": "datum.value == 11", "value": "left"}, "value": "center"}, "labelColor": "#111", "labelFlush": false, "labelOverlap": false, "labelLimit": 0, "title": null}},
   "x2": {"datum": 629},
   "y": {"datum": 0, "type": "quantitative", "scale": {"domain": [0, 1]}, "axis": null}
  }
 },
 {
  "columns": 2, "bounds": "flush", "spacing": {"row": 11.6, "column": 59},
  "concat": [
   {"width": 244, "height": 97,
    "title": {"text": "0 h", "orient": "left", "angle": 0, "align": "left", "baseline": "middle", "frame": "group", "anchor": "middle", "offset": 3.75, "dy": 7, "fontSize": 25, "font": "Liberation Serif"},
    "layer": [
     {"data": {"name": "gates"}, "transform": [{"filter": "datum.c == 'C'"}], "mark": "rule", "encoding": {"x": {"field": "g", "type": "quantitative", "title": null}}},
     {"data": {"name": "hist"}, "transform": [{"filter": "datum.h == '0 h' && datum.c == 'C'"}], "mark": "line", "encoding": {"x": {"field": "x", "type": "quantitative", "scale": {"domain": [0, 100], "range": [38, 244], "nice": false}, "axis": {"title": null, "values": [0,5,10,15,20,25,30,35,40,45,50,55,60,65,70,75,80,85,90,95,100]}}, "y": {"field": "y", "type": "quantitative", "scale": {"domain": [0, 100]}, "axis": {"offset": -38, "title": "Count:\u00a0\u00a01000", "titleFontSize": 15, "titlePadding": 4, "titleColor": "#333", "values": [0,20,40,60,80,100]}}}}
   ]},
   {"width": 209, "height": 97, "layer": [
     {"data": {"name": "gates"}, "transform": [{"filter": "datum.c == 'S'"}], "mark": "rule", "encoding": {"x": {"field": "g", "type": "quantitative", "title": null}}},
     {"data": {"name": "hist"}, "transform": [{"filter": "datum.h == '0 h' && datum.c == 'S'"}], "mark": "line", "encoding": {"x": {"field": "x", "type": "quantitative", "scale": {"domain": [0, 100], "nice": false}, "axis": {"title": null, "values": [0,5,10,15,20,25,30,35,40,45,50,55,60,65,70,75,80,85,90,95,100]}}, "y": {"field": "y", "type": "quantitative", "scale": {"domain": [0, 100]}, "axis": {"title": "Count:\u00a0\u00a0500", "titleFontSize": 15, "titlePadding": 4, "titleColor": "#333", "values": [0,20,40,60,80,100]}}}}
   ]},
   {"width": 244, "height": 97,
    "title": {"text": "4 h", "orient": "left", "angle": 0, "align": "left", "baseline": "middle", "frame": "group", "anchor": "middle", "offset": 3.75, "dy": 7, "fontSize": 25, "font": "Liberation Serif"},
    "layer": [
     {"data": {"name": "gates"}, "transform": [{"filter": "datum.c == 'C'"}], "mark": "rule", "encoding": {"x": {"field": "g", "type": "quantitative", "title": null}}},
     {"data": {"name": "hist"}, "transform": [{"filter": "datum.h == '4 h' && datum.c == 'C'"}], "mark": "line", "encoding": {"x": {"field": "x", "type": "quantitative", "scale": {"domain": [0, 100], "range": [38, 244], "nice": false}, "axis": {"title": null, "values": [0,5,10,15,20,25,30,35,40,45,50,55,60,65,70,75,80,85,90,95,100]}}, "y": {"field": "y", "type": "quantitative", "scale": {"domain": [0, 100]}, "axis": {"offset": -38, "title": null, "values": [0,20,40,60,80,100]}}}}
   ]},
   {"width": 209, "height": 97, "layer": [
     {"data": {"name": "gates"}, "transform": [{"filter": "datum.c == 'S'"}], "mark": "rule", "encoding": {"x": {"field": "g", "type": "quantitative", "title": null}}},
     {"data": {"name": "hist"}, "transform": [{"filter": "datum.h == '4 h' && datum.c == 'S'"}], "mark": "line", "encoding": {"x": {"field": "x", "type": "quantitative", "scale": {"domain": [0, 100], "nice": false}, "axis": {"title": null, "values": [0,5,10,15,20,25,30,35,40,45,50,55,60,65,70,75,80,85,90,95,100]}}, "y": {"field": "y", "type": "quantitative", "scale": {"domain": [0, 100]}, "axis": {"title": null, "values": [0,20,40,60,80,100]}}}}
   ]},
   {"width": 244, "height": 97,
    "title": {"text": "8 h", "orient": "left", "angle": 0, "align": "left", "baseline": "middle", "frame": "group", "anchor": "middle", "offset": 3.75, "dy": 7, "fontSize": 25, "font": "Liberation Serif"},
    "layer": [
     {"data": {"name": "gates"}, "transform": [{"filter": "datum.c == 'C'"}], "mark": "rule", "encoding": {"x": {"field": "g", "type": "quantitative", "title": null}}},
     {"data": {"name": "hist"}, "transform": [{"filter": "datum.h == '8 h' && datum.c == 'C'"}], "mark": "line", "encoding": {"x": {"field": "x", "type": "quantitative", "scale": {"domain": [0, 100], "range": [38, 244], "nice": false}, "axis": {"title": null, "values": [0,5,10,15,20,25,30,35,40,45,50,55,60,65,70,75,80,85,90,95,100]}}, "y": {"field": "y", "type": "quantitative", "scale": {"domain": [0, 100]}, "axis": {"offset": -38, "title": null, "values": [0,20,40,60,80,100]}}}}
   ]},
   {"width": 209, "height": 97, "layer": [
     {"data": {"name": "gates"}, "transform": [{"filter": "datum.c == 'S'"}], "mark": "rule", "encoding": {"x": {"field": "g", "type": "quantitative", "title": null}}},
     {"data": {"name": "hist"}, "transform": [{"filter": "datum.h == '8 h' && datum.c == 'S'"}], "mark": "line", "encoding": {"x": {"field": "x", "type": "quantitative", "scale": {"domain": [0, 100], "nice": false}, "axis": {"title": null, "values": [0,5,10,15,20,25,30,35,40,45,50,55,60,65,70,75,80,85,90,95,100]}}, "y": {"field": "y", "type": "quantitative", "scale": {"domain": [0, 100]}, "axis": {"title": null, "values": [0,20,40,60,80,100]}}}}
   ]},
   {"width": 244, "height": 97,
    "title": {"text": "12 h", "orient": "left", "angle": 0, "align": "left", "baseline": "middle", "frame": "group", "anchor": "middle", "offset": -8.75, "dy": 7, "fontSize": 25, "font": "Liberation Serif"},
    "layer": [
     {"data": {"name": "gates"}, "transform": [{"filter": "datum.c == 'C'"}], "mark": "rule", "encoding": {"x": {"field": "g", "type": "quantitative", "title": null}}},
     {"data": {"name": "hist"}, "transform": [{"filter": "datum.h == '12 h' && datum.c == 'C'"}], "mark": "line", "encoding": {"x": {"field": "x", "type": "quantitative", "scale": {"domain": [0, 100], "range": [38, 244], "nice": false}, "axis": {"title": null, "values": [0,5,10,15,20,25,30,35,40,45,50,55,60,65,70,75,80,85,90,95,100]}}, "y": {"field": "y", "type": "quantitative", "scale": {"domain": [0, 100]}, "axis": {"offset": -38, "title": null, "values": [0,20,40,60,80,100]}}}}
   ]},
   {"width": 209, "height": 97, "layer": [
     {"data": {"name": "gates"}, "transform": [{"filter": "datum.c == 'S'"}], "mark": "rule", "encoding": {"x": {"field": "g", "type": "quantitative", "title": null}}},
     {"data": {"name": "hist"}, "transform": [{"filter": "datum.h == '12 h' && datum.c == 'S'"}], "mark": "line", "encoding": {"x": {"field": "x", "type": "quantitative", "scale": {"domain": [0, 100], "nice": false}, "axis": {"title": null, "values": [0,5,10,15,20,25,30,35,40,45,50,55,60,65,70,75,80,85,90,95,100]}}, "y": {"field": "y", "type": "quantitative", "scale": {"domain": [0, 100]}, "axis": {"title": null, "values": [0,20,40,60,80,100]}}}}
   ]},
   {"width": 244, "height": 97,
    "title": {"text": "16 h", "orient": "left", "angle": 0, "align": "left", "baseline": "middle", "frame": "group", "anchor": "middle", "offset": -8.75, "dy": 7, "fontSize": 25, "font": "Liberation Serif"},
    "layer": [
     {"data": {"name": "gates"}, "transform": [{"filter": "datum.c == 'C'"}], "mark": "rule", "encoding": {"x": {"field": "g", "type": "quantitative", "title": null}}},
     {"data": {"name": "hist"}, "transform": [{"filter": "datum.h == '16 h' && datum.c == 'C'"}], "mark": "line", "encoding": {"x": {"field": "x", "type": "quantitative", "scale": {"domain": [0, 100], "range": [38, 244], "nice": false}, "axis": {"title": null, "values": [0,5,10,15,20,25,30,35,40,45,50,55,60,65,70,75,80,85,90,95,100]}}, "y": {"field": "y", "type": "quantitative", "scale": {"domain": [0, 100]}, "axis": {"offset": -38, "title": null, "values": [0,20,40,60,80,100]}}}}
   ]},
   {"width": 209, "height": 97, "layer": [
     {"data": {"name": "gates"}, "transform": [{"filter": "datum.c == 'S'"}], "mark": "rule", "encoding": {"x": {"field": "g", "type": "quantitative", "title": null}}},
     {"data": {"name": "hist"}, "transform": [{"filter": "datum.h == '16 h' && datum.c == 'S'"}], "mark": "line", "encoding": {"x": {"field": "x", "type": "quantitative", "scale": {"domain": [0, 100], "nice": false}, "axis": {"title": null, "values": [0,5,10,15,20,25,30,35,40,45,50,55,60,65,70,75,80,85,90,95,100]}}, "y": {"field": "y", "type": "quantitative", "scale": {"domain": [0, 100]}, "axis": {"title": null, "values": [0,20,40,60,80,100]}}}}
   ]},
   {"width": 244, "height": 97,
    "title": {"text": "22 h", "orient": "left", "angle": 0, "align": "left", "baseline": "middle", "frame": "group", "anchor": "middle", "offset": -8.75, "dy": 7, "fontSize": 25, "font": "Liberation Serif"},
    "layer": [
     {"data": {"name": "gates"}, "transform": [{"filter": "datum.c == 'C'"}], "mark": "rule", "encoding": {"x": {"field": "g", "type": "quantitative", "title": null}}},
     {"data": {"name": "hist"}, "transform": [{"filter": "datum.h == '22 h' && datum.c == 'C'"}], "mark": "line", "encoding": {"x": {"field": "x", "type": "quantitative", "scale": {"domain": [0, 100], "range": [38, 244], "nice": false}, "axis": {"title": null, "values": [0,5,10,15,20,25,30,35,40,45,50,55,60,65,70,75,80,85,90,95,100]}}, "y": {"field": "y", "type": "quantitative", "scale": {"domain": [0, 100]}, "axis": {"offset": -38, "title": null, "values": [0,20,40,60,80,100]}}}}
   ]},
   {"width": 209, "height": 97, "layer": [
     {"data": {"name": "gates"}, "transform": [{"filter": "datum.c == 'S'"}], "mark": "rule", "encoding": {"x": {"field": "g", "type": "quantitative", "title": null}}},
     {"data": {"name": "hist"}, "transform": [{"filter": "datum.h == '22 h' && datum.c == 'S'"}], "mark": "line", "encoding": {"x": {"field": "x", "type": "quantitative", "scale": {"domain": [0, 100], "nice": false}, "axis": {"title": null, "values": [0,5,10,15,20,25,30,35,40,45,50,55,60,65,70,75,80,85,90,95,100]}}, "y": {"field": "y", "type": "quantitative", "scale": {"domain": [0, 100]}, "axis": {"title": null, "values": [0,20,40,60,80,100]}}}}
   ]}
  ]
 }
]
}
